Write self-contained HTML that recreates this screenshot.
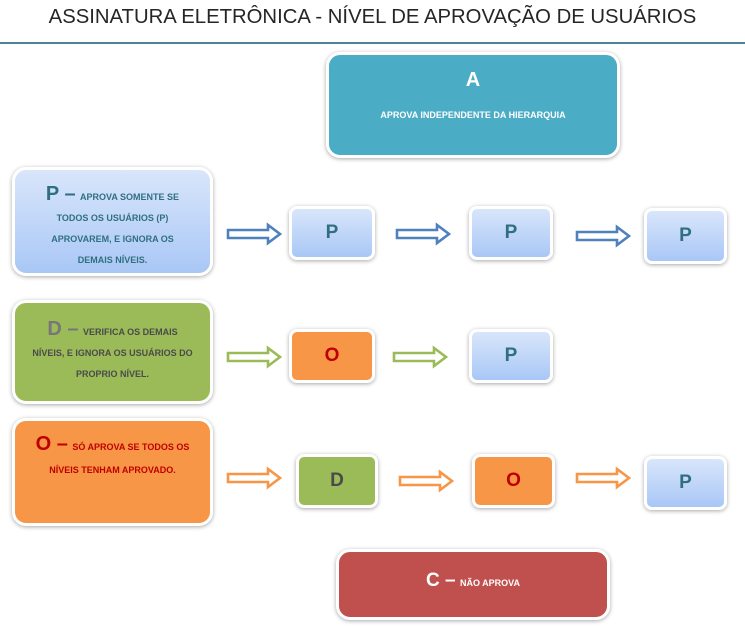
<!DOCTYPE html>
<html><head><meta charset="utf-8"><style>
body{margin:0;width:745px;height:628px;background:#fff;position:relative;overflow:hidden;font-family:"Liberation Sans",sans-serif}
.t{position:absolute;left:0;width:745px;top:6px;text-align:center;font-size:20.3px;color:#262626}
.ln{position:absolute;left:0;top:42px;width:745px;height:2px;background:#4f8196}
.b{position:absolute;box-sizing:border-box;border:3px solid #fff;border-radius:14px;box-shadow:0 1px 4px rgba(0,0,0,.35);text-align:center;font-weight:bold}
.blue{background:linear-gradient(#d9e6fb,#a9c7f6);color:#2f6f7f}
.grn{background:#9bbb59;color:#4a4a4a}
.org{background:#f79646;color:#c00000}
.s{border-radius:8px;font-size:19px;display:flex;align-items:center;justify-content:center}
.sm{font-size:9px}
svg{position:absolute;left:0;top:0}
</style></head><body>
<div class="t">ASSINATURA ELETRÔNICA - NÍVEL DE APROVAÇÃO DE USUÁRIOS</div>
<div class="ln"></div>
<div class="b" style="left:326px;top:52px;width:294px;height:106px;background:#4bacc6;color:#fff">
<div style="font-size:20px;margin-top:14px">A</div><div class="sm" style="margin-top:18px">APROVA INDEPENDENTE DA HIERARQUIA</div></div>
<div class="b blue" style="left:12px;top:167px;width:201px;height:109px;line-height:20px;padding-top:14px">
<span style="font-size:20px">P –</span> <span class="sm">APROVA SOMENTE SE</span><br><span class="sm">TODOS OS USUÁRIOS (P)<br>APROVAREM, E IGNORA OS<br>DEMAIS NÍVEIS.</span></div>
<div class="b grn" style="left:12px;top:300px;width:201px;height:104px;line-height:20px;padding-top:16px">
<span style="font-size:20px;color:#777">D –</span> <span class="sm">VERIFICA OS DEMAIS</span><br><span class="sm">NÍVEIS, E IGNORA OS USUÁRIOS DO<br>PROPRIO NÍVEL.</span></div>
<div class="b org" style="left:12px;top:418px;width:201px;height:108px;line-height:22px;padding-top:12px">
<span style="font-size:20px">O –</span> <span class="sm">SÓ APROVA SE TODOS OS</span><br><span class="sm">NÍVEIS TENHAM APROVADO.</span></div>
<div class="b s blue" style="left:289px;top:206px;width:86px;height:54px">P</div>
<div class="b s blue" style="left:469px;top:206px;width:84px;height:54px">P</div>
<div class="b s blue" style="left:644px;top:208px;width:83px;height:56px">P</div>
<div class="b s org" style="left:289px;top:329px;width:86px;height:54px">O</div>
<div class="b s blue" style="left:469px;top:329px;width:84px;height:54px">P</div>
<div class="b s grn" style="left:296px;top:454px;width:82px;height:54px">D</div>
<div class="b s org" style="left:472px;top:454px;width:83px;height:54px">O</div>
<div class="b s blue" style="left:644px;top:456px;width:83px;height:54px">P</div>
<div class="b" style="left:336px;top:549px;width:274px;height:71px;background:#c0504d;color:#fff;padding-top:18px"><span style="font-size:19px">C –</span> <span class="sm">NÃO APROVA</span></div>
<svg width="745" height="628">
<defs><g id="ar"><path d="M0,-4 H40 V-9 L52,0 L40,9 V4 H0 Z" fill="#fff" stroke-width="2.6"/></g></defs>
<g stroke="#4f81bd"><use href="#ar" x="228" y="234"/><use href="#ar" x="397" y="234"/><use href="#ar" x="577" y="236"/></g>
<g stroke="#9bbb59"><use href="#ar" x="228" y="357"/><use href="#ar" x="394" y="357"/></g>
<g stroke="#f79646"><use href="#ar" x="228" y="478"/><use href="#ar" x="400" y="481"/><use href="#ar" x="577" y="478"/></g>
</svg>
</body></html>
